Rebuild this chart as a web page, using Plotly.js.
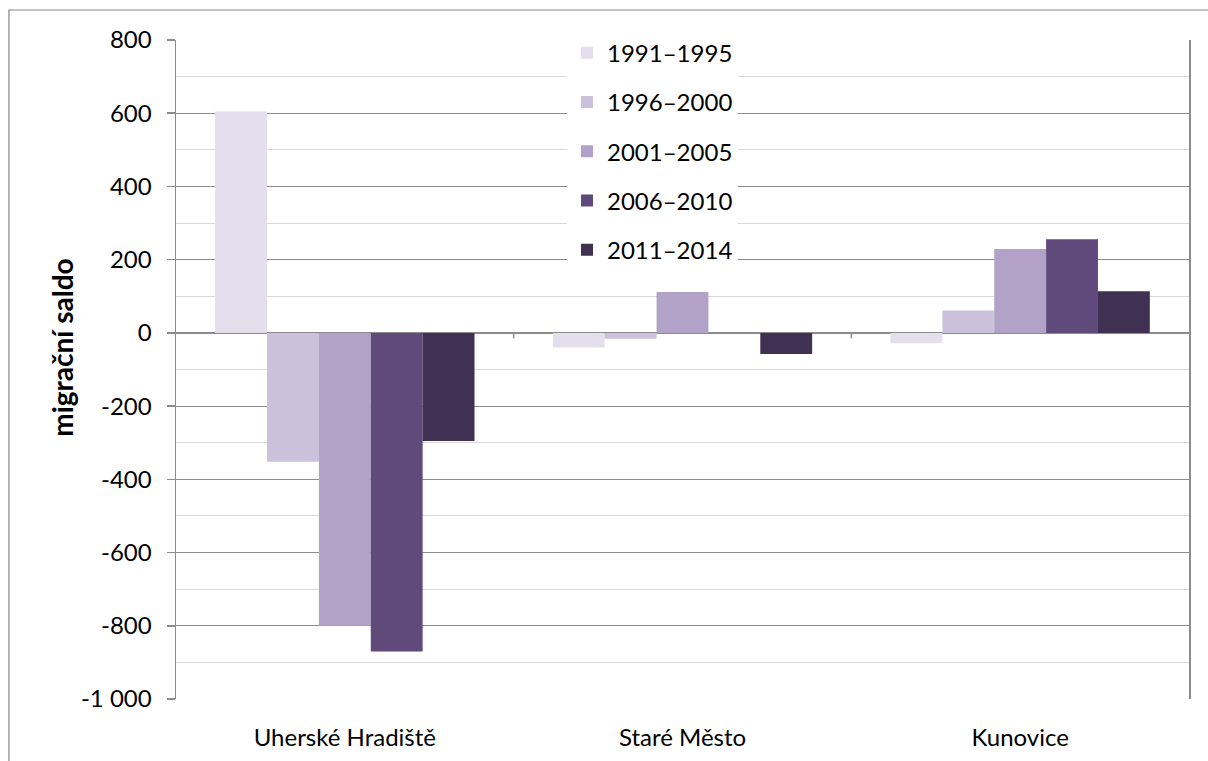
<!DOCTYPE html>
<html>
<head>
<meta charset="utf-8">
<script src="https://cdn.plot.ly/plotly-3.0.1.min.js"></script>
<style>
html,body{margin:0;padding:0;background:#fff;}
#chart{width:1208px;height:761px;}
</style>
</head>
<body>
<div id="chart"></div>
<script>
const categories = ['Uherské Hradiště', 'Staré Město', 'Kunovice'];
const seriesNames = ['1991–1995', '1996–2000', '2001–2005', '2006–2010', '2011–2014'];
const s1991_1995 = [605, -40, -28];
const s1996_2000 = [-352, -16, 61];
const s2001_2005 = [-800, 112, 229];
const s2006_2010 = [-870, 0, 256];
const s2011_2014 = [-295, -58, 114];
const seriesValues = [s1991_1995, s1996_2000, s2001_2005, s2006_2010, s2011_2014];
const colors = ['#E4DFEC', '#CCC1DA', '#B2A2C7', '#604A7B', '#403152'];
const yTickVals = [-1000, -800, -600, -400, -200, 0, 200, 400, 600, 800];
const yTickText = ['-1 000', '-800', '-600', '-400', '-200', '0', '200', '400', '600', '800'];
const yTitle = 'migrační saldo';

const FONT = 'Lato, "Open Sans", sans-serif';
const FS = 24;

const traces = seriesNames.map((name, i) => ({
  type: 'bar',
  name: name,
  x: categories,
  y: seriesValues[i],
  legendgroup: 'g' + i,
  marker: {color: colors[i], line: {width: 0}},
  hoverinfo: 'none'
}));

const grid = '#8C8C8C';

const layout = {
  width: 1208,
  height: 761,
  margin: {l: 176, r: 19, t: 40, b: 62},
  paper_bgcolor: '#ffffff',
  plot_bgcolor: '#ffffff',
  font: {family: FONT, size: FS, color: '#000000'},
  barmode: 'group',
  bargap: 0.232,
  bargroupgap: 0,
  showlegend: true,
  legend: {
    x: 0.386, xanchor: 'left',
    y: 1.014, yanchor: 'top',
    bgcolor: '#ffffff',
    borderwidth: 0,
    font: {family: FONT, size: FS, color: '#000000'},
    tracegroupgap: 15,
    itemwidth: 30,
    traceorder: 'grouped'
  },
  xaxis: {
    type: 'category',
    showgrid: false,
    zeroline: false,
    showline: false,
    ticks: '',
    ticklabelstandoff: 22,
    tickfont: {family: FONT, size: FS, color: '#000000'}
  },
  yaxis: {
    range: [-1000, 800],
    tickmode: 'array',
    tickvals: yTickVals,
    ticktext: yTickText,
    showgrid: true,
    gridcolor: grid,
    gridwidth: 1,
    zeroline: true,
    zerolinecolor: grid,
    zerolinewidth: 1.5,
    showline: true,
    linecolor: grid,
    linewidth: 1.5,
    mirror: true,
    ticks: 'outside',
    ticklen: 8,
    tickcolor: grid,
    tickwidth: 1.5,
    ticklabelstandoff: 10,
    tickfont: {family: FONT, size: FS, color: '#000000'},
    minor: {dtick: 100, tick0: 0, showgrid: true, gridcolor: '#D9D9D9', gridwidth: 1, ticks: ''}
  },
  annotations: [
    {text: '<b>' + yTitle + '</b>', xref: 'paper', yref: 'paper', x: -0.1125, y: 0.533,
     xanchor: 'center', yanchor: 'middle', textangle: -90, showarrow: false,
     font: {family: FONT, size: 28, color: '#000000'}}
  ],
  shapes: [
    {type: 'rect', xref: 'paper', yref: 'paper', x0: -0.1649, x1: 1.05, y0: -0.2, y1: 1.0455,
     line: {color: '#868686', width: 1.2}, fillcolor: 'rgba(0,0,0,0)', layer: 'above'},
    {type: 'line', xref: 'x', yref: 'y', x0: 0.5, x1: 0.5, y0: 0, y1: -15, line: {color: grid, width: 1.5}},
    {type: 'line', xref: 'x', yref: 'y', x0: 1.5, x1: 1.5, y0: 0, y1: -15, line: {color: grid, width: 1.5}}
  ]
};

Plotly.newPlot('chart', traces, layout, {displayModeBar: false, staticPlot: true});
</script>
</body>
</html>
